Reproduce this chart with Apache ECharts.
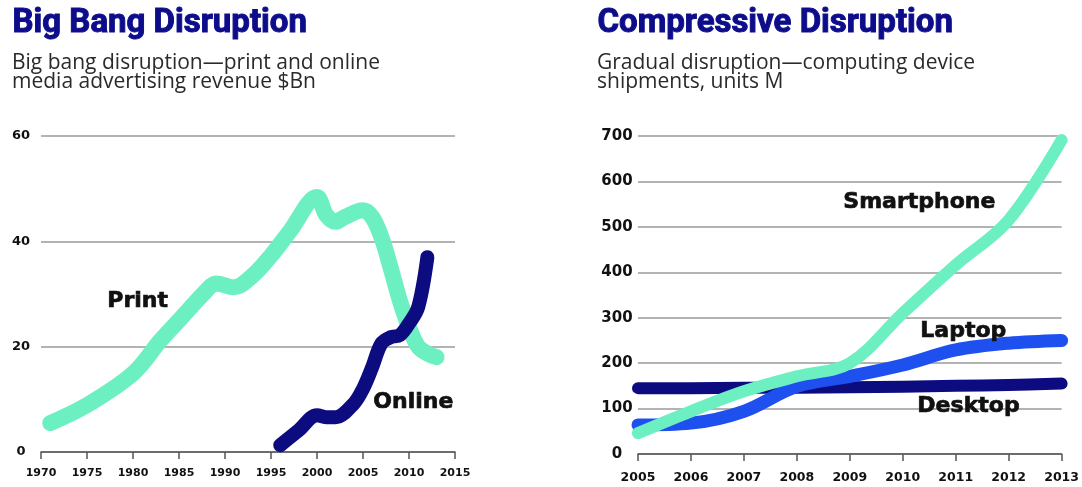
<!DOCTYPE html>
<html><head><meta charset="utf-8">
<script src="https://cdn.jsdelivr.net/npm/echarts@6/dist/echarts.min.js"></script>
<style>html,body{margin:0;padding:0;background:#fff}#c{width:1082px;height:487px}</style>
</head><body><div id="c"></div>
<script>
// Left chart: print and online media advertising revenue ($Bn)
const printYears  = [1971,1975,1980,1983,1985,1988,1989,1991,1993,1995,1997,2000,2001,2002,2003,2005,2006,2007,2008,2009,2010,2011,2012,2013];
const printValues = [5.5, 8.9, 14.9,21.2,25,  30.7,32,  31.3,33.5,37.3,41.8,48.4,45,  43.7,44.6,45.9,44.6,40.8,35,  28.8,23.7,20,  18.7,18];
const onlineYears  = [1996,1998,2000,2001,2002,2004,2005,2006,2007,2008,2009,2010,2011,2012];
const onlineValues = [1.3, 4.1, 7,   6.6, 6.6, 9.2, 12,  16.1,20.6,21.8,22.2,24.4,27.5,37];

// Right chart: computing device shipments (units M)
const deviceYears      = [2005,2006,2007,2008,2009,2010,2011,2012,2013];
const smartphoneValues = [46,  94,  138, 171, 200, 310, 416, 515, 691];
const laptopValues     = [64,  68,  94,  149, 171, 196, 229, 244, 250];
const desktopValues    = [145, 145, 146, 146, 147, 148, 150, 152, 155];

const MINT = '#6cf0c2', NAVY = '#0c0c80', BLUE = '#1e50f0';
const TITLE = '#0d0d8c';
const numFont = 'DejaVu Sans';

function pairs(xs, ys){ return xs.map((x,i)=>[x, ys[i]]); }

function axisX(gi, min, max, interval, fs, margin){
  return {
    type:'value', gridIndex:gi, min, max, interval,
    axisLine:{show:true, lineStyle:{color:'#555', width:1.5}},
    axisTick:{show:true, length:7, lineStyle:{color:'#555', width:1.5}},
    splitLine:{show:false},
    axisLabel:{color:'#111', fontFamily:numFont, fontWeight:'bold', fontSize:fs, margin,
      formatter:v=>String(v)}
  };
}
function axisY(gi, min, max, interval, fs, margin){
  return {
    type:'value', gridIndex:gi, min, max, interval,
    axisLine:{show:false}, axisTick:{show:false},
    splitLine:{show:true, lineStyle:{color:'#9a9a9a', width:1.5}},
    axisLabel:{color:'#111', fontFamily:numFont, fontWeight:'bold', fontSize:fs, margin, align:'center'}
  };
}
function line(name, xi, data, color, w){
  return {name, type:'line', xAxisIndex:xi, yAxisIndex:xi, data, smooth:0.35,
    showSymbol:false, symbol:'none', lineStyle:{color, width:w, cap:'round', join:'round'}, z: 3};
}

const chart = echarts.init(document.getElementById('c'), null, {renderer:'canvas'});
const annot = (text, left, top) => ({type:'text', left, top, z:10,
  style:{text, font:'bold 22px "DejaVu Sans"', fill:'#111', stroke:'#111', lineWidth:0.7}});
const title = (text, left) => ({type:'text', left, top:7,
  style:{text, font:'bold 33px Roboto', fill:TITLE, stroke:TITLE, lineWidth:1}});
const sub = (text, left) => ({type:'text', left, top:53,
  style:{text, font:'21px "Open Sans"', lineHeight:19, fill:'#2a2a2a'}});
chart.setOption({
  animation:false,
  backgroundColor:'#fff',
  grid:[
    {left:41, right:627, top:136, bottom:35},
    {left:638, right:20, top:136, bottom:33}
  ],
  xAxis:[axisX(0,1970,2015,5,11,16), axisX(1,2005,2013,1,12.5,17)],
  yAxis:[axisY(0,0,60,20,13,20), axisY(1,0,700,100,15,21)],
  series:[
    line('Print', 0, pairs(printYears, printValues), MINT, 16),
    line('Online', 0, pairs(onlineYears, onlineValues), NAVY, 14),
    line('Desktop', 1, pairs(deviceYears, desktopValues), NAVY, 12),
    line('Laptop', 1, pairs(deviceYears, laptopValues), BLUE, 13),
    line('Smartphone', 1, pairs(deviceYears, smartphoneValues), MINT, 12)
  ],
  graphic:[
    title('Big Bang Disruption', 12),
    sub('Big bang disruption—print and online\nmedia advertising revenue $Bn', 12),
    title('Compressive Disruption', 597),
    sub('Gradual disruption—computing device\nshipments, units M', 597),
    annot('Print', 107, 290),
    annot('Online', 373, 391),
    annot('Smartphone', 843, 191),
    annot('Laptop', 920, 320),
    annot('Desktop', 917, 395)
  ]
});
</script></body></html>
